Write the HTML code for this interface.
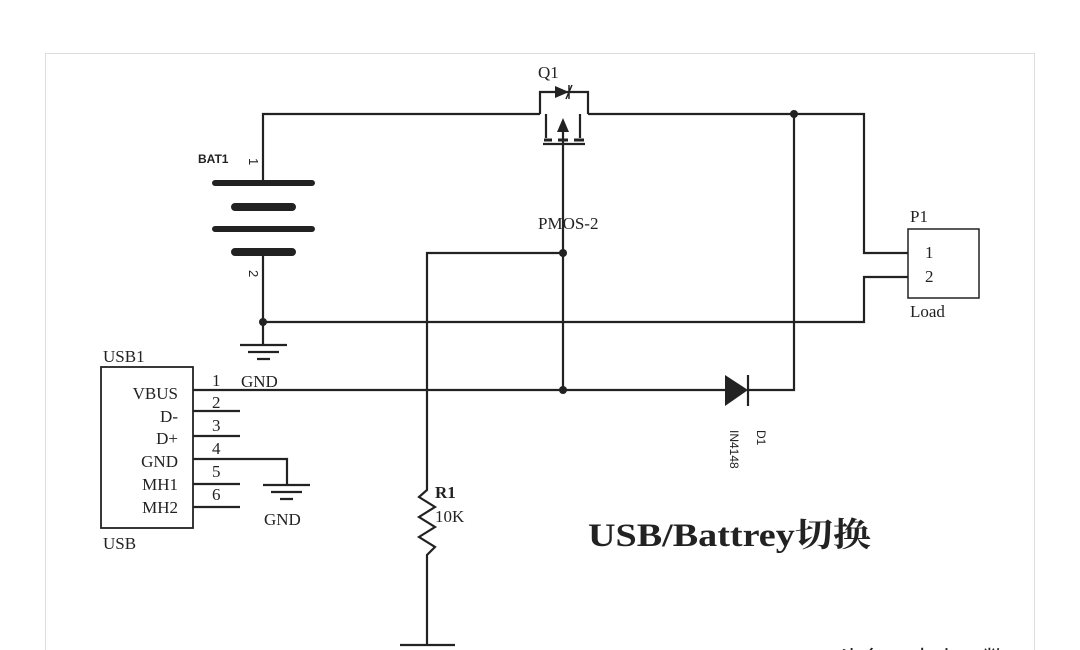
<!DOCTYPE html>
<html><head><style>
html,body{margin:0;padding:0;background:#fff;width:1080px;height:650px;overflow:hidden}
svg{display:block}
text{font-family:"Liberation Serif","Noto Serif CJK SC",serif;fill:#222}
</style></head><body>
<svg width="1080" height="650" viewBox="0 0 1080 650">
<rect x="45.5" y="53.5" width="989" height="620" fill="#fff" stroke="#ddd"/>
<g stroke="#222" stroke-width="2.2" fill="none">
<path d="M263 183V114H540M588 114H864V253H908M908 277H864V322H263"/>
<path d="M794 114V390H748"/>
<path d="M540 114V92H588V114"/>
<path d="M546 114V138M580 114V138M563 130V390M543 144H585" />
<path d="M544 140H552M558 140H568M574 140H584" stroke-width="3"/>
<path d="M215 183H312M215 229H312" stroke-width="6" stroke-linecap="round"/>
<path d="M235 207H292M235 252H292" stroke-width="8" stroke-linecap="round"/>
<path d="M263 252V345"/>
<path d="M240 345H287M248 352H279M257 359H270"/>
<path d="M563 253H427V490L419 497L435 507L419 517L435 527L419 537L435 547L427 555V645"/>
<path d="M400 645H455"/>
<rect x="908" y="229" width="71" height="69" stroke-width="1.5"/>
<rect x="101" y="367" width="92" height="161" stroke-width="1.8"/>
<path d="M193 390H725M193 411H240M193 436H240M193 459H287V485M193 484H240M193 507H240"/>
<path d="M263 485H310M271 492H302M280 499H293"/>
<path d="M748 375V406"/>
</g>
<polygon points="555,86 569,92 555,98" fill="#222"/>
<path d="M569 85V99M566 99L572 85" stroke="#222" stroke-width="1.5"/>
<polygon points="563,118 557,132 569,132" fill="#222"/>
<polygon points="725,375 748,390 725,406" fill="#222"/>
<g fill="#222">
<circle cx="794" cy="114" r="4"/><circle cx="263" cy="322" r="4"/>
<circle cx="563" cy="253" r="4"/><circle cx="563" cy="390" r="4"/>
</g>
<g font-size="17">
<text x="538" y="78">Q1</text>
<text x="538" y="229">PMOS-2</text>
<text x="910" y="222">P1</text>
<text x="925" y="258">1</text>
<text x="925" y="282">2</text>
<text x="910" y="317">Load</text>
<text x="103" y="362">USB1</text>
<text x="103" y="549">USB</text>
<text x="241" y="387">GND</text>
<text x="264" y="525">GND</text>
<g text-anchor="end"><text x="178" y="399">VBUS</text><text x="178" y="422">D-</text><text x="178" y="444">D+</text><text x="178" y="467">GND</text><text x="178" y="490">MH1</text><text x="178" y="513">MH2</text></g>
<g><text x="212" y="386">1</text><text x="212" y="408">2</text><text x="212" y="431">3</text><text x="212" y="454">4</text><text x="212" y="477">5</text><text x="212" y="500">6</text></g>
<text x="435" y="498" font-weight="bold">R1</text>
<text x="435" y="522">10K</text>
</g>
<text x="198" y="163" font-size="12" font-weight="bold" style="font-family:'Liberation Sans',sans-serif">BAT1</text>
<text transform="translate(249,158) rotate(90)" font-size="13" style="font-family:'Liberation Sans',sans-serif">1</text>
<text transform="translate(249,270) rotate(90)" font-size="13" style="font-family:'Liberation Sans',sans-serif">2</text>
<text transform="translate(757,430) rotate(90)" font-size="12" style="font-family:'Liberation Sans',sans-serif">D1</text>
<text transform="translate(730,430) rotate(90)" font-size="12" style="font-family:'Liberation Sans',sans-serif">IN4148</text>
<text x="588" y="546" font-size="33" font-weight="bold" textLength="283" lengthAdjust="spacingAndGlyphs">USB/Battrey切换</text>
<text x="838" y="668" font-size="24" fill="#333" style="font-family:'Liberation Sans','Noto Sans CJK SC',sans-serif">头条@电小二数</text>
</svg>
</body></html>
